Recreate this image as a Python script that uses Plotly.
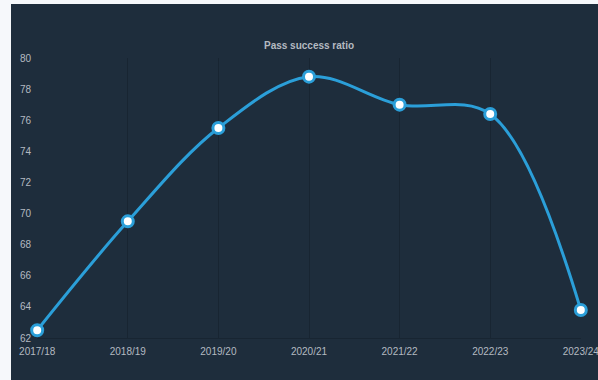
import plotly.graph_objects as go

seasons = ["2017/18", "2018/19", "2019/20", "2020/21", "2021/22", "2022/23", "2023/24"]
pass_success = [62.5, 69.5, 75.5, 78.8, 77.0, 76.4, 63.8]
y_ticks = [62, 64, 66, 68, 70, 72, 74, 76, 78, 80]

W, H = 598, 380
L, R, T, B = 37, 17, 58, 42
pw, ph = W - L - R, H - T - B

BG = "#1e2d3c"
LIGHT = "#f6f8fb"
LINE = "#2b9fd9"
GRID = "#182532"
TXT = "#b4bac1"

fig = go.Figure()
fig.add_trace(go.Scatter(
    x=list(range(len(seasons))), y=pass_success,
    mode="lines+markers",
    line=dict(color=LINE, width=3, shape="spline", smoothing=1),
    marker=dict(size=11, color="white", line=dict(color=LINE, width=3)),
    hoverinfo="x+y", cliponaxis=False,
))

def px_x(p):
    return (p - L) / pw

def px_y(p):
    return 1 - (p - T) / ph

fig.add_shape(type="rect", xref="paper", yref="paper",
              x0=px_x(0), x1=px_x(11), y0=px_y(H), y1=px_y(0),
              fillcolor=LIGHT, line=dict(width=0), layer="below")
fig.add_shape(type="rect", xref="paper", yref="paper",
              x0=px_x(0), x1=px_x(W), y0=px_y(4), y1=px_y(0),
              fillcolor=LIGHT, line=dict(width=0), layer="below")

fig.update_layout(
    width=W, height=H,
    margin=dict(l=L, r=R, t=T, b=B),
    paper_bgcolor=BG, plot_bgcolor=BG,
    showlegend=False,
    font=dict(family="Liberation Sans, Arial, sans-serif", size=10, color=TXT),
    title=dict(text="<b>Pass success ratio</b>", x=309 / W, xanchor="center",
               y=1 - 45 / H, yanchor="middle", font=dict(size=10, color=TXT)),
    xaxis=dict(
        range=[-0.002, len(seasons) - 1 + 0.002],
        tickmode="array", tickvals=list(range(len(seasons))), ticktext=seasons,
        showgrid=True, gridcolor=GRID, gridwidth=1,
        zeroline=False, showline=True, linecolor=GRID, linewidth=1,
        ticks="", automargin=False, ticklabelstandoff=4,
        ticklabeloverflow="allow",
    ),
    yaxis=dict(
        range=[62, 80],
        tickmode="array", tickvals=y_ticks,
        showgrid=False, zeroline=False, showline=False,
        ticks="", automargin=False, ticklabelstandoff=5,
    ),
)

fig.write_html(
    "out.html",
    config={"displayModeBar": False},
    post_script="document.body.style.margin='0';document.body.style.overflow='hidden';",
)
